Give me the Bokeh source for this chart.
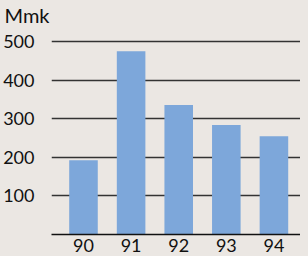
from bokeh.plotting import figure
from bokeh.models import FixedTicker, Title, ColumnDataSource, Range1d, CustomJSTickFormatter
from bokeh.embed import file_html
from bokeh.resources import INLINE

years = ["90", "91", "92", "93", "94"]
values = [193, 476, 336, 284, 255]
y_ticks = [100, 200, 300, 400, 500]

BG = "#ebe7e3"
BAR = "#7da7da"
FONT = "Lato"

xs = list(range(len(years)))
src = ColumnDataSource(dict(x=xs, top=values))

p = figure(width=300, height=254, output_backend="svg", toolbar_location=None,
           x_range=Range1d(-0.672, 4.558), y_range=Range1d(0, 540),
           min_border_left=47, min_border_right=0, min_border_top=0, min_border_bottom=0,
           background_fill_color=BG, border_fill_color=BG, outline_line_color=None)

t = Title(text="Mmk", align="left", offset=-47, text_font=FONT, text_font_size="20px",
          text_font_style="normal", text_color="#111111", standoff=0)
p.add_layout(t, "above")

p.vbar(x="x", top="top", width=0.6, source=src, fill_color=BAR, line_color=None)

p.ygrid.ticker = FixedTicker(ticks=y_ticks)
p.ygrid.grid_line_color = "#333333"
p.ygrid.grid_line_width = 1.5
p.xgrid.grid_line_color = None

p.yaxis.ticker = FixedTicker(ticks=y_ticks)
p.yaxis.axis_line_color = None
p.yaxis.major_tick_line_color = None
p.yaxis.minor_tick_line_color = None
p.yaxis.major_tick_out = 0
p.yaxis.minor_tick_out = 0
p.yaxis.major_label_text_font = FONT
p.yaxis.major_label_text_font_size = "18px"
p.yaxis.major_label_text_color = "#111111"
p.yaxis.major_label_standoff = 17

p.xaxis.ticker = FixedTicker(ticks=xs)
p.xaxis.formatter = CustomJSTickFormatter(args=dict(labels=years), code="return labels[tick]")
p.xaxis.axis_line_color = "#111111"
p.xaxis.axis_line_width = 1.5
p.xaxis.major_tick_line_color = None
p.xaxis.minor_tick_line_color = None
p.xaxis.major_tick_out = 0
p.xaxis.minor_tick_out = 0
p.xaxis.major_label_text_font = FONT
p.xaxis.major_label_text_font_size = "18px"
p.xaxis.major_label_text_color = "#111111"
p.xaxis.major_label_standoff = 4

html = file_html(p, INLINE)
html = html.replace("<head>", "<head><style>html,body{overflow:hidden;background:%s}</style>" % BG, 1)
open("out.html", "w").write(html)
